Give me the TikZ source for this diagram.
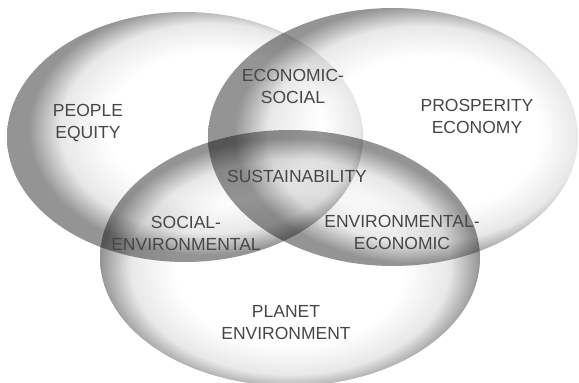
\documentclass[tikz,border=0pt]{standalone}
\usepackage{fontspec}
\setmainfont{Liberation Sans}
\usepackage{tikz}
\pgfdeclareradialshading{ballpeople}{\pgfpoint{6bp}{3bp}}{color(0bp)=(white); color(15bp)=(white); color(21bp)=(black!9); color(25bp)=(black!42); color(50bp)=(black!42)}
\pgfdeclareradialshading{ballprosper}{\pgfpoint{7bp}{1bp}}{color(0bp)=(white); color(15bp)=(white); color(21bp)=(black!9); color(25bp)=(black!42); color(50bp)=(black!42)}
\pgfdeclareradialshading{ballplanet}{\pgfpoint{0bp}{-3bp}}{color(0bp)=(white); color(15bp)=(white); color(21bp)=(black!9); color(25bp)=(black!42); color(50bp)=(black!42)}

\begin{document}
\begin{tikzpicture}[x=1pt,y=1pt,
		pillar/.style={blend mode=multiply},
		lbl/.style={font=\fontsize{17.5}{22}\selectfont, text=black!72, align=center, inner sep=0pt}]
			\useasboundingbox (0,0) rectangle (579,-383);
			\shade[pillar, shading=ballpeople] (185,-137) ellipse [x radius=178pt, y radius=125pt];
			\shade[pillar, shading=ballplanet] (290,-258) ellipse [x radius=190pt, y radius=128pt];
			\shade[pillar, shading=ballprosper] (393,-137) ellipse [x radius=185pt, y radius=129pt];
			\node[lbl] (people) at (88,-123) {PEOPLE\\EQUITY};
			\node[lbl] (prosper) at (477,-116) {PROSPERITY\\ECONOMY};
			\node[lbl] (planet) at (286,-323) {PLANET\\ENVIRONMENT};
			\node[lbl] (ecosoc) at (293,-86) {ECONOMIC-\\SOCIAL};
			\node[lbl] (socenv) at (186,-233) {SOCIAL-\\ENVIRONMENTAL};
			\node[lbl] (enveco) at (402,-232) {ENVIRONMENTAL-\\ECONOMIC};
			\node[lbl] (sustain) at (297,-176) {SUSTAINABILITY};
		\end{tikzpicture}
\end{document}
